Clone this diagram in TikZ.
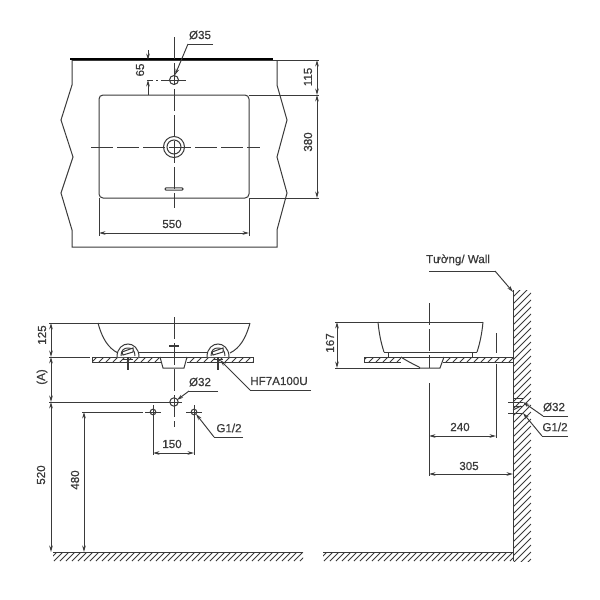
\documentclass[tikz,border=0pt]{standalone}
\usepackage{fontspec}
\setmainfont{Liberation Sans}[RawFeature={embolden=0.6}]
\usetikzlibrary{arrows.meta}
\definecolor{ink}{HTML}{3A3A3A}
\tikzset{
  base/.style={line width=1pt,draw=ink},
  thin/.style={line width=0.95pt,draw=ink},
  dim/.style={line width=0.95pt,draw=ink,{Stealth[length=6.5pt,width=3.6pt]}-{Stealth[length=6.5pt,width=3.6pt]}},
  leader/.style={line width=0.95pt,draw=ink,-{Stealth[length=6.5pt,width=3.6pt]}},
  center/.style={line width=0.95pt,draw=ink,dash pattern=on 22pt off 4pt},
  hatch/.style={line width=0.8pt,draw=ink},
  lab/.style={font=\fontsize{11.6}{12}\selectfont,text=ink,inner sep=0pt},
  rlab/.style={lab,rotate=90}
}
\begin{document}
\begin{tikzpicture}[x=1pt,y=-1pt]
\useasboundingbox (0,0) rectangle (600,600);
\fill[white] (0,0) rectangle (600,600);
% ---------- top view
\draw[line width=2pt,black] (70,59) -- (273,59);
\draw[base] (72,60) -- (277,60);
\draw[base] (72,60) -- (72,85) -- (61,120) -- (73,157) -- (61,193) -- (72,230) -- (72,247) -- (277,247) -- (277,230) -- (287,193) -- (277,157) -- (287,120) -- (277,85) -- (277,60);
\draw[base,rounded corners=4pt] (99,95) rectangle (249,198);
\draw[center] (174,37) -- (174,208);
\draw[center] (91,147) -- (260,147);
\draw[base] (174,147) circle (10.5);
\draw[base] (174,147) circle (7);
\draw[base] (174,80) circle (4.5);
\draw[thin] (162,80) -- (186,80);
\draw[thin,dash pattern=on 6pt off 3pt on 2pt off 3pt] (147,80) -- (162,80);
\draw[base,rounded corners=1pt] (165,187.8) rectangle (183,190.2);
% dims top
\draw[thin] (99,198) -- (99,236);
\draw[thin] (249,198) -- (249,236);
\draw[dim] (99,233) -- (249,233);
\node[lab] (t550) at (172,224) {550};
\draw[thin] (277,60) -- (319,60);
\draw[thin] (249,95) -- (319,95);
\draw[thin] (249,198) -- (319,198);
\draw[dim] (317,60) -- (317,95);
\draw[dim] (317,95) -- (317,198);
\node[rlab] (t115) at (308,77) {115};
\node[rlab] (t380) at (308,142) {380};
\draw[leader] (148,50) -- (148,60);
\draw[leader] (148,95) -- (148,80);
\node[rlab] (t65) at (140,70) {65};
\node[lab] (d35) at (200,35) {Ø35};
\coordinate (l35a) at (213,44);
\coordinate (l35b) at (188,44);
\coordinate (l35c) at (175,75);
\draw[thin] (l35a) -- (l35b);
\draw[leader] (l35b) -- (l35c);
% ---------- front view
\draw[base] (98,323) -- (250,323);
\draw[base] (98,323) .. controls (102,338) and (108,348) .. (118,353);
\draw[base] (250,323) .. controls (246,338) and (240,348) .. (230,353);
\draw[base] (136,352) -- (212,352);
\draw[base] (92,357) rectangle (253,362);
\begin{scope}
\clip (92,357) rectangle (253,362);
\foreach \x in {92,99,...,260} \draw[hatch] (\x,362) -- (\x+5,357);
\end{scope}
\fill[white] (160.5,356.2) rectangle (186.5,362.8);
\draw[base] (160,357) -- (163,368) -- (184,368) -- (187,357);
\draw[base] (160,357) -- (187,357);
% mounts
\foreach \m in {128,218}{
  \draw[base,fill=white] (\m-11,357) .. controls (\m-11,348) and (\m-5,344) .. (\m,344) .. controls (\m+5,344) and (\m+11,348) .. (\m+11,357);
  \draw[thin] (\m-7,356) .. controls (\m-7,350) and (\m-4,348) .. (\m,348) .. controls (\m+4,348) and (\m+7,350) .. (\m+7,356);
  \draw[base,fill=white] (\m-6,352) -- (\m+5,348) -- (\m+5,352) -- (\m-5,355) -- cycle;
  \draw[line width=2pt,ink] (\m,357) -- (\m,370);
  \draw[line width=1.6pt,ink] (\m-5,359.5) -- (\m+5,359.5);
}
\draw[center] (174,317) -- (174,427);
\draw[line width=1.6pt,ink] (169,346) -- (179,346);
\draw[base] (174,402) circle (4.2);
\draw[thin] (158,402) -- (182,402);
\foreach \p in {153,194}{
  \draw[base] (\p,412) circle (2.8);
  \draw[thin] (\p-8,412) -- (\p+8,412);
  \draw[thin] (\p,405) -- (\p,417);
}
\node[lab] (d32a) at (200,382) {Ø32};
\coordinate (l32a) at (218,391);
\coordinate (l32b) at (189,391);
\coordinate (l32c) at (177,400);
\draw[thin] (l32a) -- (l32b);
\draw[leader] (l32b) -- (l32c);
\node[lab] (g12a) at (229,428) {G1/2};
\coordinate (lga) at (243,437);
\coordinate (lgb) at (214,437);
\coordinate (lgc) at (196,414);
\draw[thin] (lga) -- (lgb);
\draw[leader] (lgb) -- (lgc);
\node[lab] (hf) at (279,381) {HF7A100U};
\coordinate (lha) at (311,390);
\coordinate (lhb) at (250,390);
\coordinate (lhc) at (220,360);
\draw[thin] (lha) -- (lhb);
\draw[leader] (lhb) -- (lhc);
% dims front
\draw[thin] (153,417) -- (153,455);
\draw[thin] (194,417) -- (194,455);
\draw[dim] (153,453) -- (194,453);
\node[lab] (t150) at (172,444) {150};
\draw[thin] (49,323) -- (98,323);
\draw[thin] (49,357) -- (90,357);
\draw[thin] (49,402) -- (158,402);
\draw[dim] (51,323) -- (51,357);
\draw[dim] (51,357) -- (51,402);
\draw[dim] (51,402) -- (51,552);
\node[rlab] (t125) at (42,335) {125};
\node[rlab] (tA) at (42,377) {(A)};
\node[rlab] (t520) at (41,475) {520};
\draw[thin] (82,412) -- (143,412);
\draw[dim] (84,412) -- (84,552);
\node[rlab] (t480) at (75,480) {480};
% floors
\draw[base] (53,552) -- (303,552);
\begin{scope}
\clip (53,552) rectangle (303,561);
\foreach \x in {48,54,...,306} \draw[hatch] (\x,561) -- (\x+9,552);
\end{scope}
\draw[base] (323,552) -- (513,552);
\begin{scope}
\clip (323,552) rectangle (513,561);
\foreach \x in {318,324,...,516} \draw[hatch] (\x,561) -- (\x+9,552);
\end{scope}
% ---------- side view
\begin{scope}
\clip (513,290) rectangle (531,561);
\foreach \y in {290,297,...,590} \draw[hatch] (513,\y) -- (531,\y-18);
\end{scope}
\draw[base] (513,290) -- (513,561);
\draw[base] (378,322) -- (483,322);
\draw[base] (378,322) .. controls (379,333) and (381,343) .. (384,352);
\draw[base] (483,322) .. controls (482,333) and (480,343) .. (477,352);
\draw[base] (384,352) -- (477,352);
\draw[base] (388,352) -- (388,357);
\draw[base] (472,352) -- (472,357);
\draw[base] (364,357) rectangle (513,362);
\begin{scope}
\clip (364,357) rectangle (513,362);
\foreach \x in {362,369,...,515} \draw[hatch] (\x,362) -- (\x+5,357);
\end{scope}
\fill[white] (401,357.8) rectangle (443,363);
\draw[base] (401,357) .. controls (405,360) and (413,364) .. (419,367) -- (420,368) -- (440,368) -- (444,357);
\draw[center] (429,303) -- (429,368);
\draw[thin] (429,383) -- (429,476);
\draw[thin] (496,333) -- (496,353);
\draw[thin] (496,364) -- (496,438);
\draw[dim] (429,436) -- (496,436);
\draw[dim] (429,474) -- (513,474);
\node[lab] (t240) at (460,427) {240};
\node[lab] (t305) at (469,466) {305};
\draw[thin] (335,322) -- (378,322);
\draw[thin] (335,368) -- (420,368);
\draw[dim] (337,322) -- (337,368);
\node[rlab] (t167) at (330,343) {167};
\node[lab] (wall) at (458,260) {Tường/ Wall};
\coordinate (lwa) at (429,271);
\coordinate (lwb) at (495,271);
\coordinate (lwc) at (513,292);
\draw[thin] (lwa) -- (lwb);
\draw[leader] (lwb) -- (lwc);
% wall holes
\draw[thin] (513,398) -- (523,398);
\draw[thin] (508,402) -- (523,402);
\draw[thin] (508,413) -- (523,413);
\draw[thin] (513,406) -- (523,406);
\draw[thin] (513,410) -- (521,406);
\node[lab] (d32b) at (554,407) {Ø32};
\coordinate (lb1) at (568,416);
\coordinate (lb2) at (543,416);
\coordinate (lb3) at (523,402);
\draw[thin] (lb1) -- (lb2);
\draw[leader] (lb2) -- (lb3);
\node[lab] (g12b) at (555,427) {G1/2};
\coordinate (lc1) at (568,436);
\coordinate (lc2) at (542,436);
\coordinate (lc3) at (523,413);
\draw[thin] (lc1) -- (lc2);
\draw[leader] (lc2) -- (lc3);
\end{tikzpicture}
\end{document}
